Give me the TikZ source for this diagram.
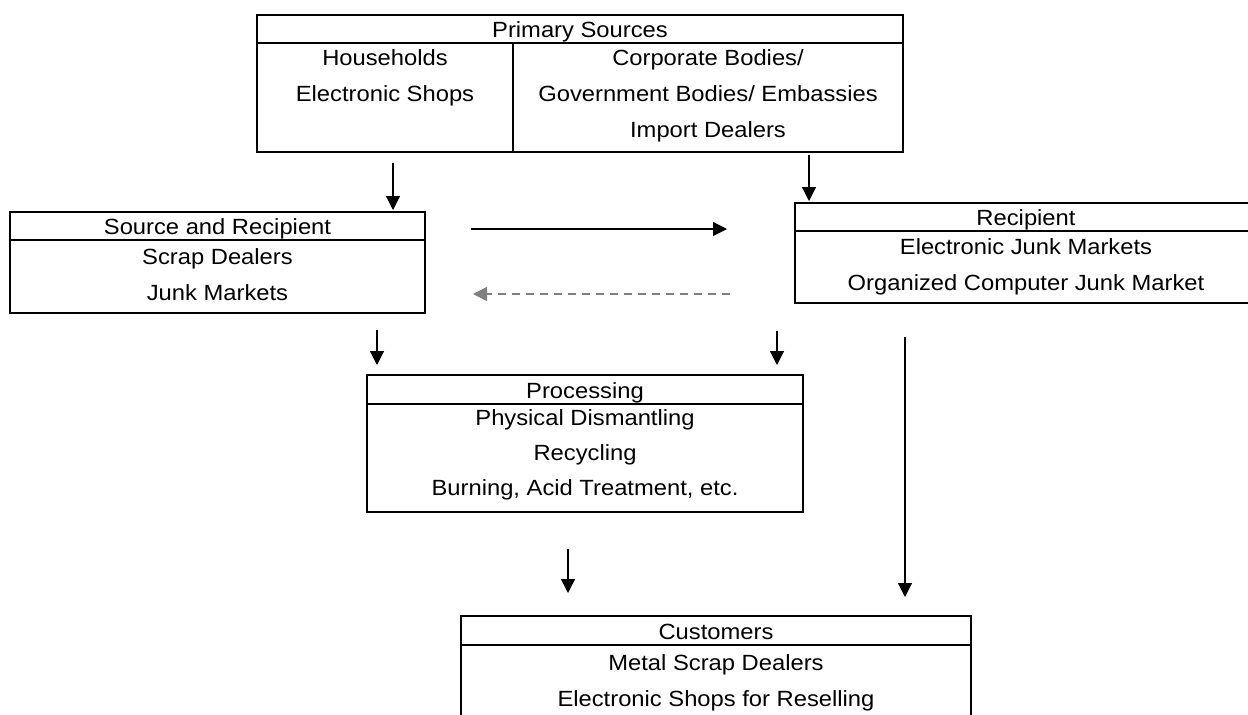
\documentclass[tikz,border=0pt]{standalone}
\usepackage{fontspec}
\setmainfont{Liberation Sans}[FakeStretch=1.08]
\usetikzlibrary{arrows.meta}
\begin{document}
\begin{tikzpicture}[x=1pt,y=-1pt,
  boxline/.style={line width=1.9pt},
  lbl/.style={anchor=base, inner sep=0pt, font=\fontsize{22}{26}\selectfont},
  flow/.style={line width=1.2pt, -{Triangle[length=14pt,width=14pt]}},
  back/.style={line width=1.3pt, draw={rgb,255:red,128;green,128;blue,128}, dash pattern=on 8pt off 6pt,
     -{Triangle[length=14pt,width=14pt,fill={rgb,255:red,128;green,128;blue,128}]}}]
\useasboundingbox (0,0) rectangle (1248,715);
\begin{scope}
\clip (0,0) rectangle (1248,715);
% Primary Sources
\draw[boxline] (257,15) rectangle (903,152);
\draw[boxline] (257,43) -- (903,43);
\draw[boxline] (513,43) -- (513,152);
\node[lbl] (ps) at (580,37) {Primary Sources};
\node[lbl] (hh) at (385,65) {Households};
\node[lbl] (es) at (385,101) {Electronic Shops};
\node[lbl] (cb) at (708,65) {Corporate Bodies/};
\node[lbl] (gb) at (708,101) {Government Bodies/ Embassies};
\node[lbl] (id) at (708,137) {Import Dealers};
% Source and Recipient
\draw[boxline] (10,212) rectangle (425,313);
\draw[boxline] (10,240) -- (425,240);
\node[lbl] (sr) at (217.5,234.5) {Source and Recipient};
\node[lbl] (sd) at (217.5,264) {Scrap Dealers};
\node[lbl] (jm) at (217.5,300) {Junk Markets};
% Recipient
\draw[boxline] (795,203) rectangle (1258,303);
\draw[boxline] (795,231) -- (1258,231);
\node[lbl] (rc) at (1026,225) {Recipient};
\node[lbl] (ej) at (1026,254) {Electronic Junk Markets};
\node[lbl] (oc) at (1026,290) {Organized Computer Junk Market};
% Processing
\draw[boxline] (367,375) rectangle (803,512);
\draw[boxline] (367,404) -- (803,404);
\node[lbl] (pr) at (585,398) {Processing};
\node[lbl] (pd) at (585,425) {Physical Dismantling};
\node[lbl] (ry) at (585,460) {Recycling};
\node[lbl] (ba) at (585,495) {Burning, Acid Treatment, etc.};
% Customers
\draw[boxline] (461,616) rectangle (971,740);
\draw[boxline] (461,645) -- (971,645);
\node[lbl] (cu) at (716,639) {Customers};
\node[lbl] (ms) at (716,670) {Metal Scrap Dealers};
\node[lbl] (er) at (716,706) {Electronic Shops for Reselling};
% connector end points
\coordinate (a1s) at (393,163); \coordinate (a1e) at (393,210);
\coordinate (a2s) at (809,155); \coordinate (a2e) at (809,201);
\coordinate (a3s) at (471,229); \coordinate (a3e) at (727,229);
\coordinate (a4s) at (730,294); \coordinate (a4e) at (473,294);
\coordinate (a5s) at (377,330); \coordinate (a5e) at (377,365);
\coordinate (a6s) at (777,331); \coordinate (a6e) at (777,365);
\coordinate (a7s) at (568,549); \coordinate (a7e) at (568,593);
\coordinate (a8s) at (905,337); \coordinate (a8e) at (905,597);
\draw[flow] (a1s) -- (a1e);
\draw[flow] (a2s) -- (a2e);
\draw[flow] (a3s) -- (a3e);
\draw[back] (a4s) -- (a4e);
\draw[flow] (a5s) -- (a5e);
\draw[flow] (a6s) -- (a6e);
\draw[flow] (a7s) -- (a7e);
\draw[flow] (a8s) -- (a8e);
\end{scope}
\end{tikzpicture}
\end{document}
